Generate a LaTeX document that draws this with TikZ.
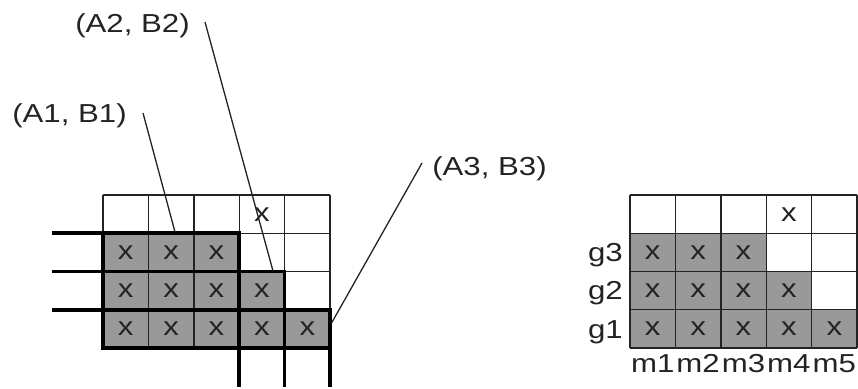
\documentclass[tikz,border=0pt]{standalone}
\usepackage{fontspec}
\setmainfont[FakeStretch=1.2]{Liberation Sans}
\definecolor{shadegray}{RGB}{153,153,153}
\definecolor{ink}{RGB}{35,35,35}
\begin{document}
\begin{tikzpicture}[x=1pt,y=-1pt,
  thinline/.style={line width=1.4pt, draw=ink},
  thickline/.style={line width=3.6pt, draw=black},
  leader/.style={line width=1.3pt, draw=ink},
  txt/.style={font=\fontsize{26}{31}\selectfont, text=ink, inner sep=0pt, anchor=base},
  xmk/.style={font=\fontsize{26}{31}\selectfont, text=ink, inner sep=0pt, anchor=base}]
\useasboundingbox (0,0) rectangle (858,388);
\def\cw{45.4}
\def\rh{38.25}
% ---------- left grid ----------
\fill[shadegray] (103,233) -- (239.2,233) -- (239.2,271.5) -- (284.6,271.5) -- (284.6,309.75) -- (330,309.75) -- (330,348) -- (103,348) -- cycle;
\foreach \i in {0,...,5} \draw[thinline] ({103+\i*\cw},195) -- ({103+\i*\cw},348);
\foreach \j in {0,...,4} \draw[thinline] (103,{195+\j*\rh}) -- (330,{195+\j*\rh});
\draw[thickline] (52,233) -- (239.2,233) -- (239.2,387);
\draw[thickline] (52,271.5) -- (284.6,271.5) -- (284.6,387);
\draw[thickline] (52,309.75) -- (330,309.75) -- (330,387);
\draw[thickline] (103,233) -- (103,348) -- (330,348);
% x marks left
\node[xmk] (L03) at ({103+3.5*\cw},{195+0.5*\rh+7}) {x};
\foreach \c in {0,1,2} \node[xmk] (L1\c) at ({103+(\c+0.5)*\cw},{195+1.5*\rh+7}) {x};
\foreach \c in {0,1,2,3} \node[xmk] (L2\c) at ({103+(\c+0.5)*\cw},{195+2.5*\rh+7}) {x};
\foreach \c in {0,1,2,3,4} \node[xmk] (L3\c) at ({103+(\c+0.5)*\cw},{195+3.5*\rh+7}) {x};
% labels and leaders
\node[txt] (ab1) at (69.5,122) {(A1, B1)};
\node[txt] (ab2) at (132.5,32) {(A2, B2)};
\node[txt] (ab3) at (489.5,175) {(A3, B3)};
\coordinate (a1s) at (143,113);
\coordinate (a1e) at (175,232);
\coordinate (a2s) at (205,22);
\coordinate (a2e) at (273,271);
\coordinate (a3s) at (422,163);
\coordinate (a3e) at (331,324);
\draw[leader] (a1s) -- (a1e);
\draw[leader] (a2s) -- (a2e);
\draw[leader] (a3s) -- (a3e);
% ---------- right grid ----------
\fill[shadegray] (630,233) -- (766.2,233) -- (766.2,271.5) -- (811.6,271.5) -- (811.6,309.75) -- (857,309.75) -- (857,348) -- (630,348) -- cycle;
\foreach \i in {0,...,5} \draw[thinline] ({630+\i*\cw},195) -- ({630+\i*\cw},348);
\foreach \j in {0,...,4} \draw[thinline] (630,{195+\j*\rh}) -- (857,{195+\j*\rh});
\node[xmk] (R03) at ({630+3.5*\cw},{195+0.5*\rh+7}) {x};
\foreach \c in {0,1,2} \node[xmk] (R1\c) at ({630+(\c+0.5)*\cw},{195+1.5*\rh+7}) {x};
\foreach \c in {0,1,2,3} \node[xmk] (R2\c) at ({630+(\c+0.5)*\cw},{195+2.5*\rh+7}) {x};
\foreach \c in {0,1,2,3,4} \node[xmk] (R3\c) at ({630+(\c+0.5)*\cw},{195+3.5*\rh+7}) {x};
\node[txt, anchor=base east] (g3) at (623,261.5) {g3};
\node[txt, anchor=base east] (g2) at (623,299.8) {g2};
\node[txt, anchor=base east] (g1) at (623,338) {g1};
\foreach \c in {1,...,5} \node[txt] (m\c) at ({630+(\c-0.5)*\cw},372) {m\c};
\end{tikzpicture}
\end{document}
